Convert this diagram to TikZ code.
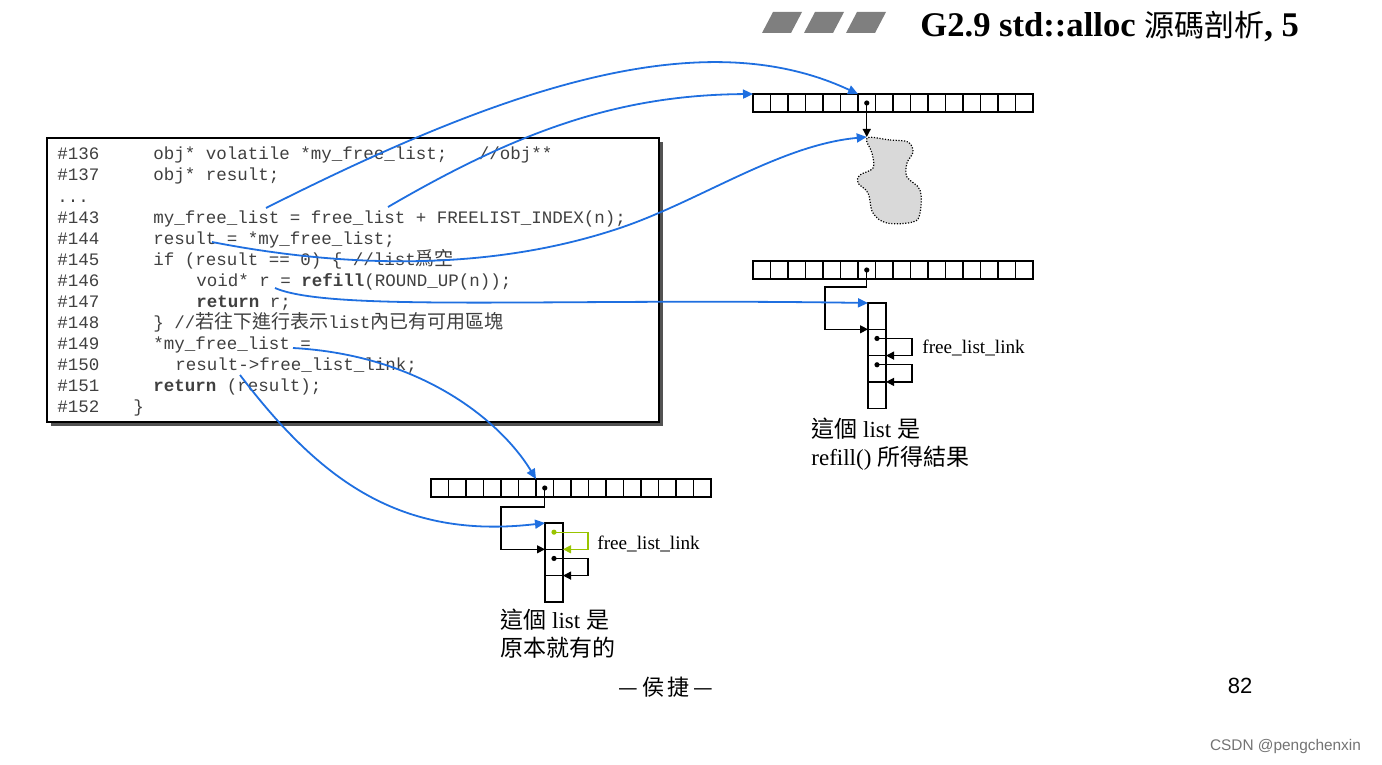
\documentclass[tikz,border=0pt]{standalone}
\usepackage{fontspec}
\setmainfont{Liberation Serif}
\setsansfont{Liberation Sans}
\setmonofont{Liberation Mono}
\newfontfamily\cjk{Noto Sans CJK TC}
\usetikzlibrary{arrows.meta,shadows}

\definecolor{linkblue}{HTML}{1F6FE0}
\definecolor{linkgreen}{HTML}{99C400}
\definecolor{blobgray}{HTML}{D9D9D9}
\definecolor{barGray}{HTML}{7F7F7F}

\tikzset{
  cell/.style={draw, line width=0.6pt, minimum width=8.75pt, minimum height=9pt, inner sep=0pt, outer sep=0pt},
  vcell/.style={draw, line width=0.6pt, minimum width=9pt, minimum height=13.15pt, inner sep=0pt, outer sep=0pt},
  codeline/.style={anchor=base west, inner sep=0pt, text=black!75, font=\ttfamily\fontsize{8.75}{10}\selectfont},
  ptr/.style={line width=0.6pt, -{Triangle[length=4pt,width=4pt]}},
  blueptr/.style={linkblue, line width=0.9pt, -{Triangle[length=5pt,width=4.5pt]}},
  note/.style={align=left, anchor=north west, inner sep=0pt, font=\fontsize{11.5}{14}\selectfont},
  linklabel/.style={anchor=west, inner sep=0pt, font=\fontsize{9.6}{11}\selectfont},
}

\begin{document}
\begin{tikzpicture}[x=0.5pt,y=-0.5pt]
\useasboundingbox (0,0) rectangle (1382,765);

% title
\foreach \x in {762,804,846} {\fill[barGray] (\x,33) -- (\x+11,12) -- (\x+40,12) -- (\x+29,33) -- cycle;}
\node[anchor=base west, inner sep=0pt, font=\fontsize{17.3}{18}\selectfont\bfseries] (title) at (920,37) {G2.9 std::alloc {\cjk\mdseries\fontsize{15}{18}\selectfont 源碼剖析}, 5};

% code listing
\node[draw, line width=0.8pt, fill=white, minimum width=306pt, minimum height=142pt, inner sep=0pt,
  drop shadow={shadow xshift=2pt, shadow yshift=-2pt, fill=black!75, opacity=0.9}] (codebox) at (353,280) {};
\foreach \n/\y in {136/160,137/181,143/223,144/244,145/265,146/286,147/307,148/328,149/349,150/370,151/391,152/412}
  {\node[codeline] (ln\n) at (57,\y) {\#\n};}
\node[codeline] (lndots) at (57,202) {...};
\node[codeline] (c136) at (153,160) {obj* volatile *my\_free\_list;\ \ \ //obj**};
\node[codeline] (c137) at (153,181) {obj* result;};
\node[codeline] (c143) at (153,223) {my\_free\_list = free\_list + FREELIST\_INDEX(n);};
\node[codeline] (c144) at (153,244) {result = *my\_free\_list;};
\node[codeline] (c145) at (153,265) {if (result == 0) \{ //list{\cjk\fontsize{9.5}{10}\selectfont 爲空}};
\node[codeline] (c146) at (196,286) {void* r = \textbf{refill}(ROUND\_UP(n));};
\node[codeline] (c147) at (196,307) {\textbf{return} r;};
\node[codeline] (c148) at (153,328) {\} //{\cjk\fontsize{9.5}{10}\selectfont 若往下進行表示}list{\cjk\fontsize{9.5}{10}\selectfont 內已有可用區塊}};
\node[codeline] (c149) at (153,349) {*my\_free\_list =};
\node[codeline] (c150) at (175,370) {result->free\_list\_link;};
\node[codeline] (c151) at (153,391) {\textbf{return} (result);};
\node[codeline] (c152) at (133,412) {\}};

% free list arrays
\foreach \i in {1,...,16} {
  \node[cell] (top-\i) at ({753+17.5*(\i-1)+8.75},103) {};
  \node[cell] (mid-\i) at ({753+17.5*(\i-1)+8.75},270) {};
  \node[cell] (bot-\i) at ({431+17.5*(\i-1)+8.75},488) {};
}
\foreach \i in {1,...,4} {\node[vcell] (ml-\i) at (877,{303+26.3*(\i-1)+13.15}) {};}
\foreach \i in {1,...,3} {\node[vcell] (bl-\i) at (554,{523+26.3*(\i-1)+13.15}) {};}

% memory blob
\draw[line width=0.6pt, dash pattern=on 0.6pt off 0.8pt, fill=blobgray] plot[smooth cycle, tension=0.6] coordinates {
  (867,138) (890,140) (908,142) (913,152) (907,163) (907,177) (920,190) (920,213) (913,222) (887,223)
  (873,213) (868,193) (858,183) (860,175) (873,168) (872,153)};
\coordinate (blobtop) at (866.75,137);

% black pointers
\fill (top-7.center) circle (1.3pt);
\draw[ptr] (top-7.center) -- (blobtop);

\coordinate (mbend) at (825,287);
\fill (mid-7.center) circle (1.3pt);
\draw[ptr] (mid-7.center) |- (mbend) |- (ml-2.north west);
\fill ([yshift=2pt]ml-2.center) circle (1.3pt);
\draw[ptr] ([yshift=2pt]ml-2.center) -| ([xshift=13pt]ml-3.north east) -- (ml-3.north east);
\fill ([yshift=2pt]ml-3.center) circle (1.3pt);
\draw[ptr] ([yshift=2pt]ml-3.center) -| ([xshift=13pt]ml-4.north east) -- (ml-4.north east);
\node[linklabel] (mlink) at (922,348) {free\_list\_link};
\node[note] (mnote) at (811,418) {{\cjk 這個} list {\cjk 是}\\refill() {\cjk 所得結果}};

\coordinate (bbend) at (501,507);
\fill (bot-7.center) circle (1.3pt);
\draw[ptr] (bot-7.center) |- (bbend) |- (bl-2.north west);
\fill[linkgreen] ([yshift=2pt]bl-1.center) circle (1.3pt);
\draw[ptr, linkgreen] ([yshift=2pt]bl-1.center) -| ([xshift=12.5pt]bl-2.north east) -- (bl-2.north east);
\fill ([yshift=2pt]bl-2.center) circle (1.3pt);
\draw[ptr] ([yshift=2pt]bl-2.center) -| ([xshift=12.5pt]bl-3.north east) -- (bl-3.north east);
\node[linklabel] (blink) at (597,544) {free\_list\_link};
\node[note] (bnote) at (500,608) {{\cjk 這個} list {\cjk 是}\\{\cjk 原本就有的}};

% blue links from the code
\coordinate (myfl) at (266,208);
\coordinate (fl) at (388,207);
\coordinate (res) at (212,242);
\coordinate (rr) at (275,288);
\coordinate (pmyfl) at (293,348);
\coordinate (resnext) at (240,375);
\draw[blueptr] (myfl) .. controls (500,90) and (700,20) .. (top-7.north west);
\draw[blueptr] (fl) .. controls (520,130) and (620,95) .. (top-1.north west);
\draw[blueptr] (res) .. controls (330,265) and (480,275) .. (620,228) .. controls (700,201) and (780,145) .. (blobtop);
\draw[blueptr] (rr) .. controls (330,312) and (550,298) .. (ml-1.north west);
\draw[blueptr] (pmyfl) .. controls (420,355) and (500,420) .. (bot-7.north west);
\draw[blueptr] (resnext) .. controls (320,480) and (400,540) .. (bl-1.north west);

% footer
\node[font=\cjk\fontsize{11}{12}\selectfont] (author) at (666,687) {—\hspace{2pt}侯\hspace{1.5pt}捷\hspace{2pt}—};
\node[font=\sffamily\fontsize{11}{12}\selectfont] (page) at (1240,686) {82};
\node[anchor=east, text=black!55, font=\sffamily\fontsize{7.7}{10}\selectfont] (mark) at (1368,747) {CSDN @pengchenxin};
\end{tikzpicture}
\end{document}
